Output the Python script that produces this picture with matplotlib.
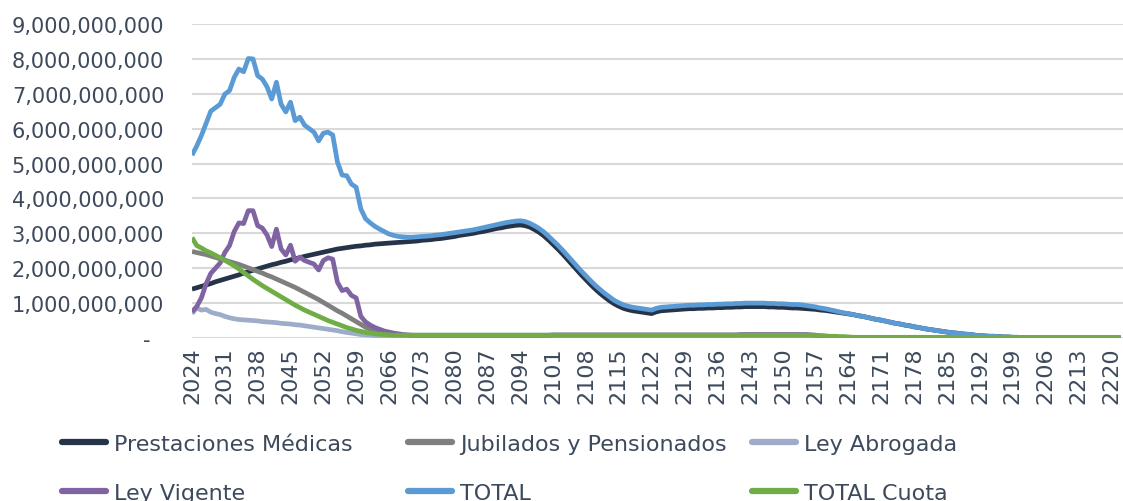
import matplotlib
matplotlib.use("Agg")
import matplotlib.pyplot as plt
from matplotlib.lines import Line2D
from matplotlib.ticker import FuncFormatter

# años de la proyección
anios = list(range(2024, 2223))

# valores en miles de millones
prestaciones_medicas = [
    1.40, 1.44, 1.48, 1.52, 1.56, 1.61, 1.65, 1.69, 1.73, 1.77,
    1.81, 1.86, 1.90, 1.94, 1.98, 2.02, 2.06, 2.10, 2.13, 2.17,
    2.20, 2.24, 2.27, 2.30, 2.34, 2.37, 2.40, 2.43, 2.46, 2.49,
    2.52, 2.55, 2.57, 2.59, 2.61, 2.63, 2.64, 2.66, 2.67, 2.69,
    2.70, 2.71, 2.72, 2.73, 2.74, 2.75, 2.76, 2.77, 2.78, 2.80,
    2.81, 2.82, 2.84, 2.85, 2.87, 2.89, 2.91, 2.94, 2.96, 2.98,
    3.00, 3.03, 3.05, 3.08, 3.11, 3.14, 3.16, 3.19, 3.21, 3.23,
    3.24, 3.22, 3.18, 3.11, 3.03, 2.93, 2.81, 2.68, 2.55, 2.41,
    2.26, 2.11, 1.96, 1.81, 1.67, 1.53, 1.40, 1.28, 1.17, 1.07,
    0.98, 0.91, 0.85, 0.81, 0.78, 0.76, 0.74, 0.72, 0.70, 0.75,
    0.78, 0.79, 0.80, 0.81, 0.82, 0.83, 0.84, 0.84, 0.85, 0.85,
    0.86, 0.86, 0.87, 0.87, 0.88, 0.88, 0.89, 0.89, 0.90, 0.90,
    0.90, 0.90, 0.90, 0.89, 0.89, 0.88, 0.88, 0.87, 0.86, 0.86,
    0.85, 0.84, 0.83, 0.82, 0.80, 0.79, 0.77, 0.75, 0.73, 0.71,
    0.69, 0.67, 0.64, 0.62, 0.59, 0.56, 0.53, 0.51, 0.48, 0.45,
    0.42, 0.40, 0.37, 0.35, 0.32, 0.30, 0.27, 0.25, 0.23, 0.21,
    0.19, 0.17, 0.15, 0.14, 0.12, 0.11, 0.10, 0.08, 0.07, 0.06,
    0.05, 0.05, 0.04, 0.03, 0.03, 0.02, 0.02, 0.01, 0.01, 0.01,
    0.01] + [0.0] * 18

jubilados_pensionados = [
    2.48, 2.45, 2.42, 2.39, 2.35, 2.31, 2.27, 2.23, 2.19, 2.15,
    2.11, 2.06, 2.01, 1.96, 1.91, 1.86, 1.80, 1.75, 1.69, 1.63,
    1.57, 1.51, 1.45, 1.38, 1.31, 1.24, 1.17, 1.10, 1.02, 0.94,
    0.86, 0.78, 0.71, 0.63, 0.55, 0.47, 0.39, 0.31, 0.25, 0.20,
    0.16, 0.13, 0.10, 0.08, 0.06, 0.05, 0.04, 0.03, 0.02, 0.02,
    0.01, 0.01, 0.01] + [0.0] * 146

ley_abrogada = [
    0.70, 0.86, 0.80, 0.82, 0.74, 0.70, 0.67, 0.62, 0.58, 0.55,
    0.53, 0.52, 0.51, 0.50, 0.49, 0.47, 0.46, 0.45, 0.44, 0.42,
    0.41, 0.40, 0.38, 0.37, 0.35, 0.33, 0.31, 0.29, 0.27, 0.25,
    0.23, 0.21, 0.18, 0.16, 0.14, 0.12, 0.10, 0.09, 0.08, 0.07,
    0.06, 0.05, 0.05, 0.04, 0.04, 0.03, 0.03] + [0.02] * 30 + [0.01] * 60 + [0.0] * 62

ley_vigente = [
    0.75, 0.90, 1.15, 1.55, 1.85, 2.00, 2.15, 2.45, 2.65, 3.05,
    3.30, 3.28, 3.65, 3.65, 3.22, 3.15, 2.95, 2.62, 3.12, 2.55,
    2.38, 2.66, 2.20, 2.32, 2.22, 2.17, 2.12, 1.95, 2.22, 2.30,
    2.26, 1.60, 1.36, 1.40, 1.22, 1.15, 0.62, 0.46, 0.37, 0.30,
    0.25, 0.20, 0.17, 0.14, 0.12, 0.10, 0.09, 0.08, 0.08, 0.08] \
    + [0.08] * 27 + [0.09] * 40 + [0.10] * 15 \
    + [0.09, 0.08, 0.06, 0.05, 0.04, 0.03, 0.02, 0.01] + [0.0] * 59

total = [
    5.24, 5.50, 5.80, 6.15, 6.50, 6.60, 6.70, 6.99, 7.09, 7.47,
    7.71, 7.63, 8.01, 8.00, 7.52, 7.42, 7.20, 6.85, 7.33, 6.70,
    6.48, 6.76, 6.23, 6.33, 6.10, 6.00, 5.90, 5.65, 5.87, 5.90,
    5.82, 5.05, 4.67, 4.65, 4.41, 4.32, 3.70, 3.42, 3.30, 3.20,
    3.12, 3.05, 2.98, 2.94, 2.91, 2.90, 2.89, 2.89, 2.90, 2.91,
    2.92, 2.93, 2.95, 2.96, 2.98, 3.00, 3.02, 3.04, 3.06, 3.08,
    3.10, 3.13, 3.16, 3.19, 3.22, 3.25, 3.28, 3.31, 3.33, 3.35,
    3.36, 3.34, 3.29, 3.22, 3.14, 3.04, 2.92, 2.79, 2.66, 2.52,
    2.37, 2.22, 2.07, 1.92, 1.78, 1.64, 1.51, 1.39, 1.28, 1.18,
    1.08, 1.01, 0.95, 0.91, 0.88, 0.86, 0.84, 0.82, 0.80, 0.85,
    0.88, 0.89, 0.90, 0.91, 0.92, 0.93, 0.94, 0.94, 0.95, 0.95,
    0.96, 0.96, 0.97, 0.97, 0.98, 0.98, 0.99, 0.99, 1.00, 1.00,
    1.00, 1.00, 1.00, 0.99, 0.99, 0.98, 0.98, 0.97, 0.96, 0.96,
    0.95, 0.93, 0.91, 0.89, 0.86, 0.84, 0.81, 0.78, 0.75, 0.72,
    0.70, 0.67, 0.64, 0.62, 0.59, 0.56, 0.53, 0.51, 0.48, 0.45,
    0.42, 0.40, 0.37, 0.35, 0.32, 0.30, 0.27, 0.25, 0.23, 0.21,
    0.19, 0.17, 0.15, 0.14, 0.12, 0.11, 0.10, 0.08, 0.07, 0.06,
    0.05, 0.05, 0.04, 0.03, 0.03, 0.02, 0.02, 0.01, 0.01, 0.01,
    0.01] + [0.0] * 18

total_cuota = [
    2.88, 2.65, 2.58, 2.50, 2.44, 2.37, 2.30, 2.23, 2.15, 2.07,
    1.98, 1.88, 1.78, 1.68, 1.59, 1.50, 1.42, 1.34, 1.26, 1.18,
    1.10, 1.02, 0.94, 0.87, 0.80, 0.74, 0.68, 0.62, 0.56, 0.50,
    0.45, 0.40, 0.35, 0.30, 0.26, 0.22, 0.19, 0.16, 0.14, 0.12,
    0.11, 0.10, 0.09] + [0.08] * 91 \
    + [0.07, 0.06, 0.05, 0.05, 0.04, 0.04, 0.03] + [0.02] * 35 + [0.01] * 23

series = [
    ("Prestaciones Médicas", prestaciones_medicas, "#263449"),
    ("Jubilados y Pensionados", jubilados_pensionados, "#7f7f7f"),
    ("Ley Abrogada", ley_abrogada, "#9dadc9"),
    ("Ley Vigente", ley_vigente, "#8064a2"),
    ("TOTAL", total, "#5b9bd5"),
    ("TOTAL Cuota", total_cuota, "#70ad47"),
]

color_texto = "#3d4a5c"

fig = plt.figure(figsize=(11.23, 5.02), dpi=100)
ax = fig.add_axes([192 / 1123, 1 - 339 / 502, (1123 - 192) / 1123, (339 - 25) / 502])

for nombre, valores, color in series:
    ax.plot(anios, valores, color=color, lw=3.4, solid_joinstyle="round",
            solid_capstyle="butt", label=nombre)

ax.set_xlim(2024, 2222.5)
ax.set_ylim(0, 9)
ax.set_yticks(range(0, 10))
ax.yaxis.set_major_formatter(FuncFormatter(
    lambda v, p: "-  " if v == 0 else f"{v * 1e9:,.0f}"))
ax.set_xticks(range(2024, 2221, 7))
ax.tick_params(axis="y", length=0, pad=20, labelsize=15, labelcolor=color_texto)
ax.tick_params(axis="x", length=0, pad=6, labelsize=16, labelcolor=color_texto,
               labelrotation=90)
ax.grid(axis="y", color="#d9d9d9", lw=1.5)
ax.set_axisbelow(True)
for s in ax.spines.values():
    s.set_visible(False)

# leyenda en tres columnas
handles = {n: Line2D([], [], color=c, lw=4.5, solid_capstyle="round") for n, _, c in series}
columnas = [
    (62, ["Prestaciones Médicas", "Ley Vigente"]),
    (408, ["Jubilados y Pensionados", "TOTAL"]),
    (752, ["Ley Abrogada", "TOTAL Cuota"]),
]
for x0, nombres in columnas:
    fig.legend([handles[n] for n in nombres], nombres, loc="upper left",
               bbox_to_anchor=(x0 / 1123, 1 - 435 / 502), frameon=False,
               fontsize=16, labelcolor=color_texto, borderpad=0, borderaxespad=0,
               handlelength=2.0, handletextpad=0.35, labelspacing=1.3)

fig.savefig("out.png", dpi=100)
